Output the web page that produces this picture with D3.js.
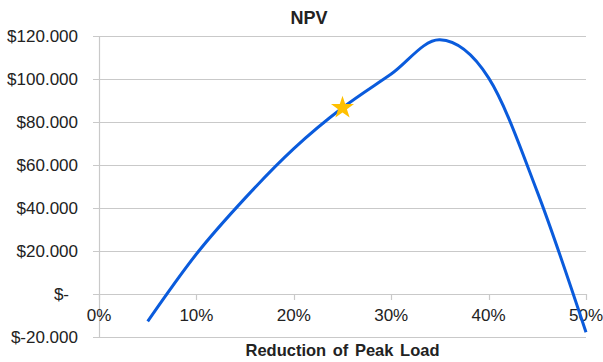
<!DOCTYPE html>
<html lang="en">
  <head>
    <meta charset="UTF-8" />
    <title>NPV</title>
    <script src="https://d3js.org/d3.v7.min.js"></script>
    <style>
      body {
        margin: 0;
        background: #ffffff;
      }
      text {
        font-family: "Liberation Sans", Arial, sans-serif;
        fill: #222222;
      }
      .grid {
        stroke: #c9c9c9;
        stroke-width: 1.2px;
      }
      .title {
        font-size: 18px;
        font-weight: bold;
      }
      .axis_label {
        font-size: 17px;
      }
      .axis_title {
        font-size: 16.5px;
        font-weight: bold;
      }
    </style>
  </head>
  <body>
    <svg id="chart" width="603" height="362"></svg>
    <script>
      // data
      let reduction = [0.05, 0.1, 0.15, 0.2, 0.25, 0.3, 0.35, 0.4, 0.45, 0.5];
      let npv = [-12700, 18600, 44600, 67600, 86600, 102300, 118200, 100500, 47500, -17800];
      let chosen = [0.25, 86600];
      let yTicks = [120000, 100000, 80000, 60000, 40000, 20000, 0, -20000];
      let xTicks = [0, 0.1, 0.2, 0.3, 0.4, 0.5];

      let svg = d3.select("#chart");
      let x = d3.scaleLinear().domain([0, 0.5]).range([99, 586]);
      let y = d3.scaleLinear().domain([-20000, 120000]).range([337, 36]);

      // money labels like the spreadsheet: dot as thousands separator, "$-" for zero
      function money(v) {
        if (v === 0) return "$-";
        let s = d3.format(",")(Math.abs(v)).replace(/,/g, ".");
        return v < 0 ? "$-" + s : "$" + s;
      }

      // gridlines
      svg
        .append("g")
        .selectAll("line")
        .data(yTicks)
        .enter()
        .append("line")
        .attr("class", "grid")
        .attr("x1", 93)
        .attr("x2", x(0.5))
        .attr("y1", (d) => Math.round(y(d)) + 0.5)
        .attr("y2", (d) => Math.round(y(d)) + 0.5);

      // y axis line
      svg
        .append("line")
        .attr("class", "grid")
        .attr("x1", x(0) + 0.5)
        .attr("x2", x(0) + 0.5)
        .attr("y1", y(120000))
        .attr("y2", y(-20000));

      // x ticks on the zero line
      svg
        .append("g")
        .selectAll("line")
        .data(xTicks)
        .enter()
        .append("line")
        .attr("class", "grid")
        .attr("x1", (d) => Math.round(x(d)) + 0.5)
        .attr("x2", (d) => Math.round(x(d)) + 0.5)
        .attr("y1", y(0))
        .attr("y2", y(0) + 6);

      // y labels
      svg
        .append("g")
        .selectAll("text")
        .data(yTicks)
        .enter()
        .append("text")
        .attr("class", "axis_label")
        .attr("text-anchor", "end")
        .attr("x", (d) => (d === 0 ? 69 : 78))
        .attr("y", (d) => y(d))
        .attr("dy", "0.36em")
        .text(money);

      // x labels
      svg
        .append("g")
        .selectAll("text")
        .data(xTicks)
        .enter()
        .append("text")
        .attr("class", "axis_label")
        .attr("text-anchor", "middle")
        .attr("x", (d) => x(d))
        .attr("y", y(0) + 27)
        .text((d) => d3.format(".0%")(d));

      // curve
      let line = d3
        .line()
        .x((d, i) => x(reduction[i]))
        .y((d) => y(d))
        .curve(d3.curveCatmullRom.alpha(0));
      svg
        .append("path")
        .datum(npv)
        .attr("d", line)
        .attr("fill", "none")
        .attr("stroke", "#0a5bdc")
        .attr("stroke-width", 3);

      // marker for the chosen point
      svg
        .append("path")
        .attr("d", d3.symbol().type(d3.symbolStar).size(165)())
        .attr("transform", `translate(${x(chosen[0])},${y(chosen[1])})`)
        .attr("fill", "#ffc000");

      // titles
      svg
        .append("text")
        .attr("class", "title")
        .attr("x", 309)
        .attr("y", 24)
        .attr("text-anchor", "middle")
        .text("NPV");
      svg
        .append("text")
        .attr("class", "axis_title")
        .attr("x", (x(0) + x(0.5)) / 2)
        .attr("y", 356)
        .attr("text-anchor", "middle")
        .attr("word-spacing", "2px")
        .text("Reduction of Peak Load");
    </script>
  </body>
</html>
